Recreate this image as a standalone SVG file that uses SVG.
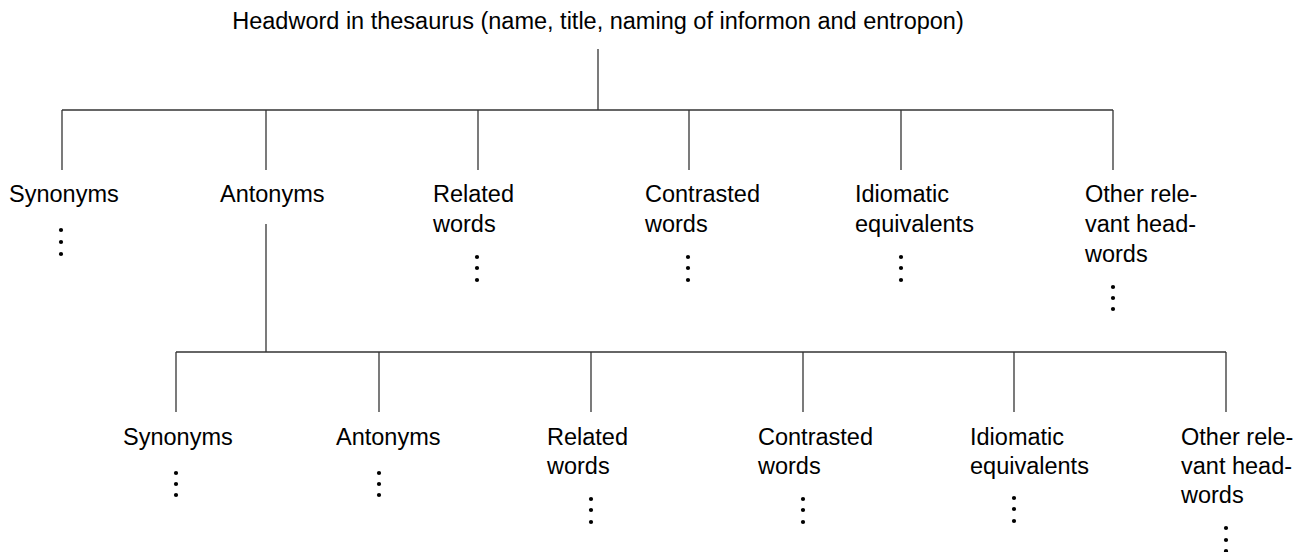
<svg xmlns="http://www.w3.org/2000/svg" width="1296" height="552" viewBox="0 0 1296 552">
<style>
text{font-family:"Liberation Sans",Arial,sans-serif;font-size:23.5px;fill:#000}
.c line{stroke:#333;stroke-width:1.3;fill:none}
.d circle{fill:#000}
</style>
<rect width="1296" height="552" fill="#fff"/>
<g class="c" id="connectors">
<line x1="598" y1="49" x2="598" y2="110"/>
<line x1="62" y1="110" x2="1113" y2="110"/>
<line x1="62" y1="110" x2="62" y2="170"/>
<line x1="266" y1="110" x2="266" y2="170"/>
<line x1="478" y1="110" x2="478" y2="170"/>
<line x1="689" y1="110" x2="689" y2="170"/>
<line x1="901" y1="110" x2="901" y2="170"/>
<line x1="1113" y1="110" x2="1113" y2="170"/>
<line x1="266" y1="224" x2="266" y2="352"/>
<line x1="176" y1="352" x2="1226" y2="352"/>
<line x1="176" y1="352" x2="176" y2="412"/>
<line x1="379" y1="352" x2="379" y2="412"/>
<line x1="591" y1="352" x2="591" y2="412"/>
<line x1="803" y1="352" x2="803" y2="412"/>
<line x1="1014" y1="352" x2="1014" y2="412"/>
<line x1="1226" y1="352" x2="1226" y2="412"/>
</g>
<g id="root"><text x="598" y="29" text-anchor="middle">Headword in thesaurus (name, title, naming of informon and entropon)</text></g>
<g id="t-syn" class="d"><text x="9" y="202">Synonyms</text><circle cx="61" cy="230" r="2.1"/><circle cx="61" cy="242" r="2.1"/><circle cx="61" cy="254" r="2.1"/></g>
<g id="t-ant"><text x="220" y="202">Antonyms</text></g>
<g id="t-rel" class="d"><text x="433" y="202">Related</text><text x="433" y="232">words</text><circle cx="477" cy="257" r="2.1"/><circle cx="477" cy="268" r="2.1"/><circle cx="477" cy="280" r="2.1"/></g>
<g id="t-con" class="d"><text x="645" y="202">Contrasted</text><text x="645" y="232">words</text><circle cx="688" cy="257" r="2.1"/><circle cx="688" cy="268" r="2.1"/><circle cx="688" cy="280" r="2.1"/></g>
<g id="t-idi" class="d"><text x="855" y="202">Idiomatic</text><text x="855" y="232">equivalents</text><circle cx="901" cy="257" r="2.1"/><circle cx="901" cy="268" r="2.1"/><circle cx="901" cy="280" r="2.1"/></g>
<g id="t-oth" class="d"><text x="1085" y="202">Other rele-</text><text x="1085" y="232">vant head-</text><text x="1085" y="262">words</text><circle cx="1113" cy="287" r="2.1"/><circle cx="1113" cy="298" r="2.1"/><circle cx="1113" cy="309" r="2.1"/></g>
<g id="b-syn" class="d"><text x="123" y="445">Synonyms</text><circle cx="176" cy="473" r="2.1"/><circle cx="176" cy="484" r="2.1"/><circle cx="176" cy="495" r="2.1"/></g>
<g id="b-ant" class="d"><text x="336" y="445">Antonyms</text><circle cx="379" cy="473" r="2.1"/><circle cx="379" cy="484" r="2.1"/><circle cx="379" cy="495" r="2.1"/></g>
<g id="b-rel" class="d"><text x="547" y="445">Related</text><text x="547" y="474">words</text><circle cx="591" cy="499" r="2.1"/><circle cx="591" cy="510" r="2.1"/><circle cx="591" cy="522" r="2.1"/></g>
<g id="b-con" class="d"><text x="758" y="445">Contrasted</text><text x="758" y="474">words</text><circle cx="803" cy="499" r="2.1"/><circle cx="803" cy="510" r="2.1"/><circle cx="803" cy="522" r="2.1"/></g>
<g id="b-idi" class="d"><text x="970" y="445">Idiomatic</text><text x="970" y="474">equivalents</text><circle cx="1014" cy="498" r="2.1"/><circle cx="1014" cy="509" r="2.1"/><circle cx="1014" cy="521" r="2.1"/></g>
<g id="b-oth" class="d"><text x="1181" y="445">Other rele-</text><text x="1181" y="474">vant head-</text><text x="1181" y="503">words</text><circle cx="1226" cy="528" r="2.1"/><circle cx="1226" cy="540" r="2.1"/><circle cx="1226" cy="551" r="2.1"/></g>
</svg>
